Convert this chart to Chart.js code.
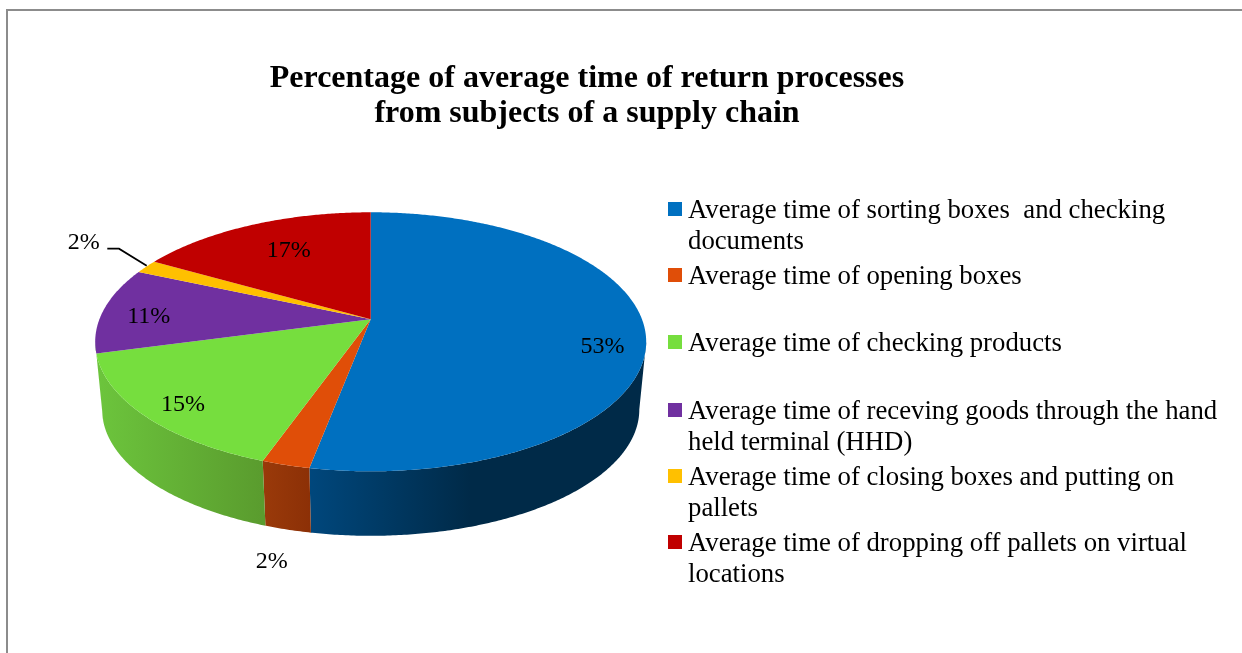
<!DOCTYPE html>
<html>
<head>
<meta charset="utf-8">
<script src="https://cdn.jsdelivr.net/npm/chart.js@4"></script>
<style>
  html, body { margin: 0; padding: 0; background: #fff; overflow: hidden; }
  #frame { position: absolute; left: 6px; top: 9px; width: 1400px; height: 800px; border-left: 2px solid #8c8c8c; border-top: 2px solid #8c8c8c; }
  #wrap { position: absolute; left: 0; top: 0; width: 1242px; height: 653px; }
</style>
</head>
<body>
<div id="frame"></div>
<div id="wrap"><canvas id="pie"></canvas></div>
<script>
// data
const categories = [
  'Average time of sorting boxes  and checking documents',
  'Average time of opening boxes',
  'Average time of checking products',
  'Average time of receving goods through the hand held terminal (HHD)',
  'Average time of closing boxes and putting on pallets',
  'Average time of dropping off pallets on virtual locations'
];
const values = [53.0, 2.4, 15.4, 10.8, 1.7, 16.7];
const valueLabels = ['53%', '2%', '15%', '11%', '2%', '17%'];
const titleLines = ['Percentage of average time of return processes', 'from subjects of a supply chain'];

// colours
const topColors = ['#0070c0', '#e04e08', '#76de3e', '#7030a0', '#ffc000', '#c00000'];
const sideLeft = ['#00477c', '#9a3a0a', '#6cc43c', '#6cc43c', '#b38600', '#860000'];
const sideRight = ['#002a48', '#8c3006', '#5a9c2e', '#6cc43c', '#b38600', '#860000'];

// layout of the tilted disc, in canvas pixels
const apexX = 370.7, apexY = 319.3;
const discR = 271.3, discA = 125.6, discC = -0.1737;
const baseScale = 0.975, baseDrop = 68.3;
const SERIF = '"Liberation Serif", "Times New Roman", serif';
// the wall only shows between these two angles (tangents of the rim)
const wallFrom = Math.acos(discC), wallTo = 2 * Math.PI - Math.acos(discC);

// label layout: centre x, baseline y
const labelPos = [[602.5, 353.3], [271.7, 568.3], [183, 411], [148.7, 323.3], [83.7, 249.3], [288.7, 257.3]];
const leader = [[107.3, 248.7], [119, 248.7], [146.7, 265.7]];

// legend layout: one block per category, lines split as in the reference
const legendLines = [
  ['Average time of sorting boxes  and checking', 'documents'],
  ['Average time of opening boxes'],
  ['Average time of checking products'],
  ['Average time of receving goods through the hand', 'held terminal (HHD)'],
  ['Average time of closing boxes and putting on', 'pallets'],
  ['Average time of dropping off pallets on virtual', 'locations']
];
const legendBase = [218, 284, 351, 419, 485, 551];
const legendLineGap = 31.3;
const legendFont = 26.75;

// perspective projection of a point on the unit disc (angle from top, clockwise)
function project(theta, lower) {
  const u = Math.sin(theta), v = -Math.cos(theta);
  const den = 1 + discC * v;
  const x = discR * u / den, y = discA * v / den;
  if (lower) return [apexX + x * baseScale, apexY + baseDrop + y * baseScale];
  return [apexX + x, apexY + y];
}

function sideGradient(ctx, i) {
  const g = ctx.createLinearGradient(i === 0 ? 310 : i === 2 ? 100 : 262, 0, i === 0 ? 470 : i === 2 ? 262 : 310, 0);
  g.addColorStop(0, sideLeft[i]);
  g.addColorStop(1, sideRight[i]);
  return g;
}

function ringPath(ctx, a0, a1, lower, step) {
  for (let t = a0; t < a1; t += step) {
    const q = project(t, lower);
    ctx.lineTo(q[0], q[1]);
  }
  const end = project(a1, lower);
  ctx.lineTo(end[0], end[1]);
}

const pie3d = {
  id: 'pie3d',
  beforeDatasetsDraw(chart) {
    const ctx = chart.ctx;
    const arcs = chart.getDatasetMeta(0).data;
    const step = Math.PI / 360;
    ctx.save();
    // side wall first
    arcs.forEach((arc, i) => {
      const a0 = Math.max(arc.startAngle + Math.PI / 2, wallFrom);
      const a1 = Math.min(arc.endAngle + Math.PI / 2, wallTo);
      if (a1 <= a0) return;
      ctx.fillStyle = sideGradient(ctx, i);
      ctx.beginPath();
      ringPath(ctx, a0, a1, false, step);
      const back = [];
      for (let t = a0; t < a1; t += step) back.push(project(t, true));
      back.push(project(a1, true));
      back.reverse().forEach(q => ctx.lineTo(q[0], q[1]));
      ctx.closePath();
      ctx.fill();
    });
    // top face
    arcs.forEach((arc, i) => {
      ctx.fillStyle = topColors[i];
      ctx.beginPath();
      ctx.moveTo(apexX, apexY);
      ringPath(ctx, arc.startAngle + Math.PI / 2, arc.endAngle + Math.PI / 2, false, step);
      ctx.closePath();
      ctx.fill();
    });
    ctx.restore();
    return false; // the flat library arcs are replaced by the tilted ones
  },
  afterDraw(chart) {
    const ctx = chart.ctx;
    ctx.save();
    ctx.fillStyle = '#000';
    ctx.textBaseline = 'alphabetic';
    // value labels
    ctx.font = '24px ' + SERIF;
    ctx.textAlign = 'center';
    valueLabels.forEach((txt, i) => ctx.fillText(txt, labelPos[i][0], labelPos[i][1]));
    // leader line of the small yellow slice
    ctx.strokeStyle = '#000';
    ctx.lineWidth = 1.7;
    ctx.beginPath();
    leader.forEach((q, k) => k ? ctx.lineTo(q[0], q[1]) : ctx.moveTo(q[0], q[1]));
    ctx.stroke();
    // legend
    ctx.textAlign = 'left';
    ctx.font = legendFont + 'px ' + SERIF;
    legendLines.forEach((lines, i) => {
      ctx.fillStyle = topColors[i];
      ctx.fillRect(668, legendBase[i] - 16, 14, 14);
      ctx.fillStyle = '#000';
      lines.forEach((txt, k) => ctx.fillText(txt, 688, legendBase[i] + k * legendLineGap));
    });
    ctx.restore();
  }
};

new Chart(document.getElementById('pie').getContext('2d'), {
  type: 'pie',
  data: {
    labels: categories,
    datasets: [{ data: values, backgroundColor: topColors, borderWidth: 0 }]
  },
  options: {
    responsive: true,
    maintainAspectRatio: false,
    animation: false,
    layout: { padding: { top: 61, right: 68 } },
    plugins: {
      legend: { display: false },
      tooltip: { enabled: false },
      title: {
        display: true,
        text: titleLines,
        color: '#000',
        padding: 0,
        font: { family: SERIF, size: 32, weight: 'bold', lineHeight: 1.1 }
      }
    }
  },
  plugins: [pie3d]
});
</script>
</body>
</html>
